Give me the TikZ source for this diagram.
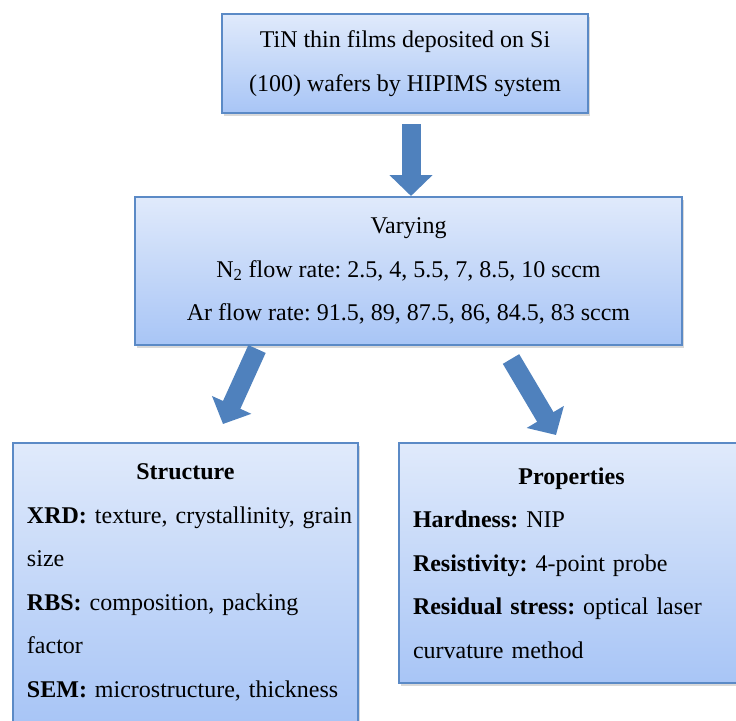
\documentclass[tikz,border=0pt]{standalone}
\usepackage{fontspec}
\setmainfont{Liberation Serif}
\frenchspacing
\usetikzlibrary{arrows.meta,shadows,positioning}
\definecolor{boxtop}{HTML}{E0EAFB}
\definecolor{boxbot}{HTML}{A8C5F6}
\definecolor{boxline}{HTML}{5B8AC6}
\definecolor{arrowblue}{HTML}{4F81BD}
\tikzset{
  flowbox/.style={draw=boxline,line width=2pt,top color=boxtop,bottom color=boxbot,
    align=center,inner sep=0pt,
    drop shadow={opacity=0.3,shadow xshift=2pt,shadow yshift=-3pt}},
  resultbox/.style={flowbox,align=left,inner xsep=14pt,text width=317pt},
  fatarrow/.style={draw=arrowblue,line width=19pt,
    -{Triangle[width=42pt,length=21pt]}}
}

\begin{document}
\begin{tikzpicture}[x=1pt,y=-1pt,font=\fontsize{24}{43.5}\selectfont]
        \useasboundingbox (0,0) rectangle (736,720);
        \clip (0,0) rectangle (736,720);
        % Deposition, the varied gas flows, then the two kinds of analysis.
        \node[flowbox,minimum width=366pt,minimum height=99pt] (film) at (405,63.5)
          {TiN thin films deposited on Si\\(100) wafers by HIPIMS system};
        \node[flowbox,minimum width=547pt,minimum height=148pt] (vary) at (408.5,271)
          {Varying\\N\textsubscript{2} flow rate: 2.5, 4, 5.5, 7, 8.5, 10 sccm\\
           Ar flow rate: 91.5, 89, 87.5, 86, 84.5, 83 sccm};
        \node[resultbox,minimum height=279pt] (struct) at (185.5,582.5)
          {\hfill\textbf{Structure}\hfill\null\\
           \mbox{\textbf{XRD:} texture, crystallinity, grain}\\size\\
           \textbf{RBS:} composition, packing\\factor\\
           \textbf{SEM:} microstructure, thickness};
        \node[resultbox,minimum height=240pt] (prop) at (571.5,563)
          {\hfill\textbf{Properties}\hfill\null\\
           \textbf{Hardness:} NIP\\
           \textbf{Resistivity:} 4-point probe\\
           \textbf{Residual stress:} optical laser\\curvature method};
        \coordinate (ltail) at (257,349);
        \coordinate (ltip) at (223,424);
        \coordinate (rtail) at (511,359);
        \coordinate (rtip) at (556,435);
        \draw[fatarrow,shorten <=10pt] ([xshift=6pt]film.south) -- ([xshift=2.5pt]vary.north);
        \draw[fatarrow] (ltail) -- (ltip);
        \draw[fatarrow] (rtail) -- (rtip);
      \end{tikzpicture}
\end{document}
